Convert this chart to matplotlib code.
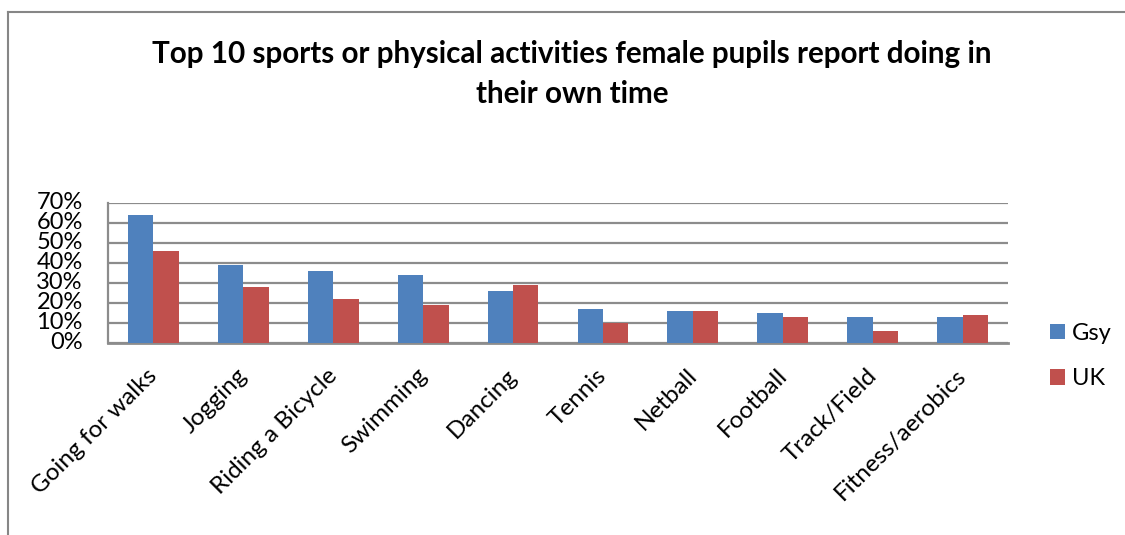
import matplotlib
matplotlib.use("Agg")
import matplotlib.pyplot as plt
import numpy as np
from matplotlib.lines import Line2D
from matplotlib.ticker import PercentFormatter
import matplotlib.transforms as mtransforms

categories = ["Going for walks", "Jogging", "Riding a Bicycle", "Swimming", "Dancing",
              "Tennis", "Netball", "Football", "Track/Field", "Fitness/aerobics"]
gsy = [64, 39, 36, 34, 26, 17, 16, 15, 13, 13]
uk = [46, 28, 22, 19, 29, 10, 16, 13, 6, 14]
series_names = ["Gsy", "UK"]
yticks = [0, 10, 20, 30, 40, 50, 60, 70]
title = "Top 10 sports or physical activities female pupils report doing in\ntheir own time"

plt.rcParams['font.family'] = ['Lato', 'DejaVu Sans']

W, H = 1125, 535
fig = plt.figure(figsize=(W / 100, H / 100), dpi=100)

# chart border (left and top visible)
bc = "#868686"
fig.add_artist(Line2D([8 / W, 8 / W], [0, (H - 12) / H], transform=fig.transFigure,
                      color=bc, linewidth=1.5))
fig.add_artist(Line2D([8 / W, 1.0], [(H - 12) / H, (H - 12) / H], transform=fig.transFigure,
                      color=bc, linewidth=1.5))

L, R, T, B = 108.3, 1007.7, 202.7, 342.7
ax = fig.add_axes([L / W, (H - B) / H, (R - L) / W, (B - T) / H])
x = np.arange(len(categories))
bw = 0.283
ax.bar(x - bw / 2, gsy, bw, color="#4F81BD", label=series_names[0], zorder=3)
ax.bar(x + bw / 2, uk, bw, color="#C0504D", label=series_names[1], zorder=3)

ax.set_xlim(-0.5, len(categories) - 0.5)
ax.set_ylim(0, 70)
ax.set_yticks(yticks)
ax.yaxis.set_major_formatter(PercentFormatter(decimals=0))
ax.grid(axis="y", color="#8c8c8c", linewidth=1.6, zorder=0)
for s in ["top", "right"]:
    ax.spines[s].set_visible(False)
ax.spines["left"].set_color("#8c8c8c")
ax.spines["bottom"].set_color("#8c8c8c")
ax.spines["left"].set_linewidth(1.6)
ax.spines["bottom"].set_linewidth(2)
ax.tick_params(axis="both", length=0)
ax.tick_params(axis="y", labelsize=17, pad=18.4)
for lab in ax.get_yticklabels():
    lab.set_verticalalignment("center")

ax.set_xticks(x)
ax.set_xticklabels(categories, rotation=45, ha="right", rotation_mode="anchor", fontsize=17.5)
ax.tick_params(axis="x", pad=15.8)
offset = mtransforms.ScaledTranslation(-7 / 100, 0, fig.dpi_scale_trans)
for lab in ax.get_xticklabels():
    lab.set_transform(lab.get_transform() + offset)

fig.text(572 / W, (H - 74) / H, title, ha="center", va="center", fontsize=21.3,
         fontweight="bold", linespacing=1.5)

leg = fig.legend(loc="upper left", bbox_to_anchor=(1050 / W, (H - 322.7) / H), frameon=False,
                 fontsize=17, handlelength=0.64, handleheight=0.64, handletextpad=0.3,
                 labelspacing=1.03, borderaxespad=0, borderpad=0)

fig.savefig("out.png", dpi=100)
